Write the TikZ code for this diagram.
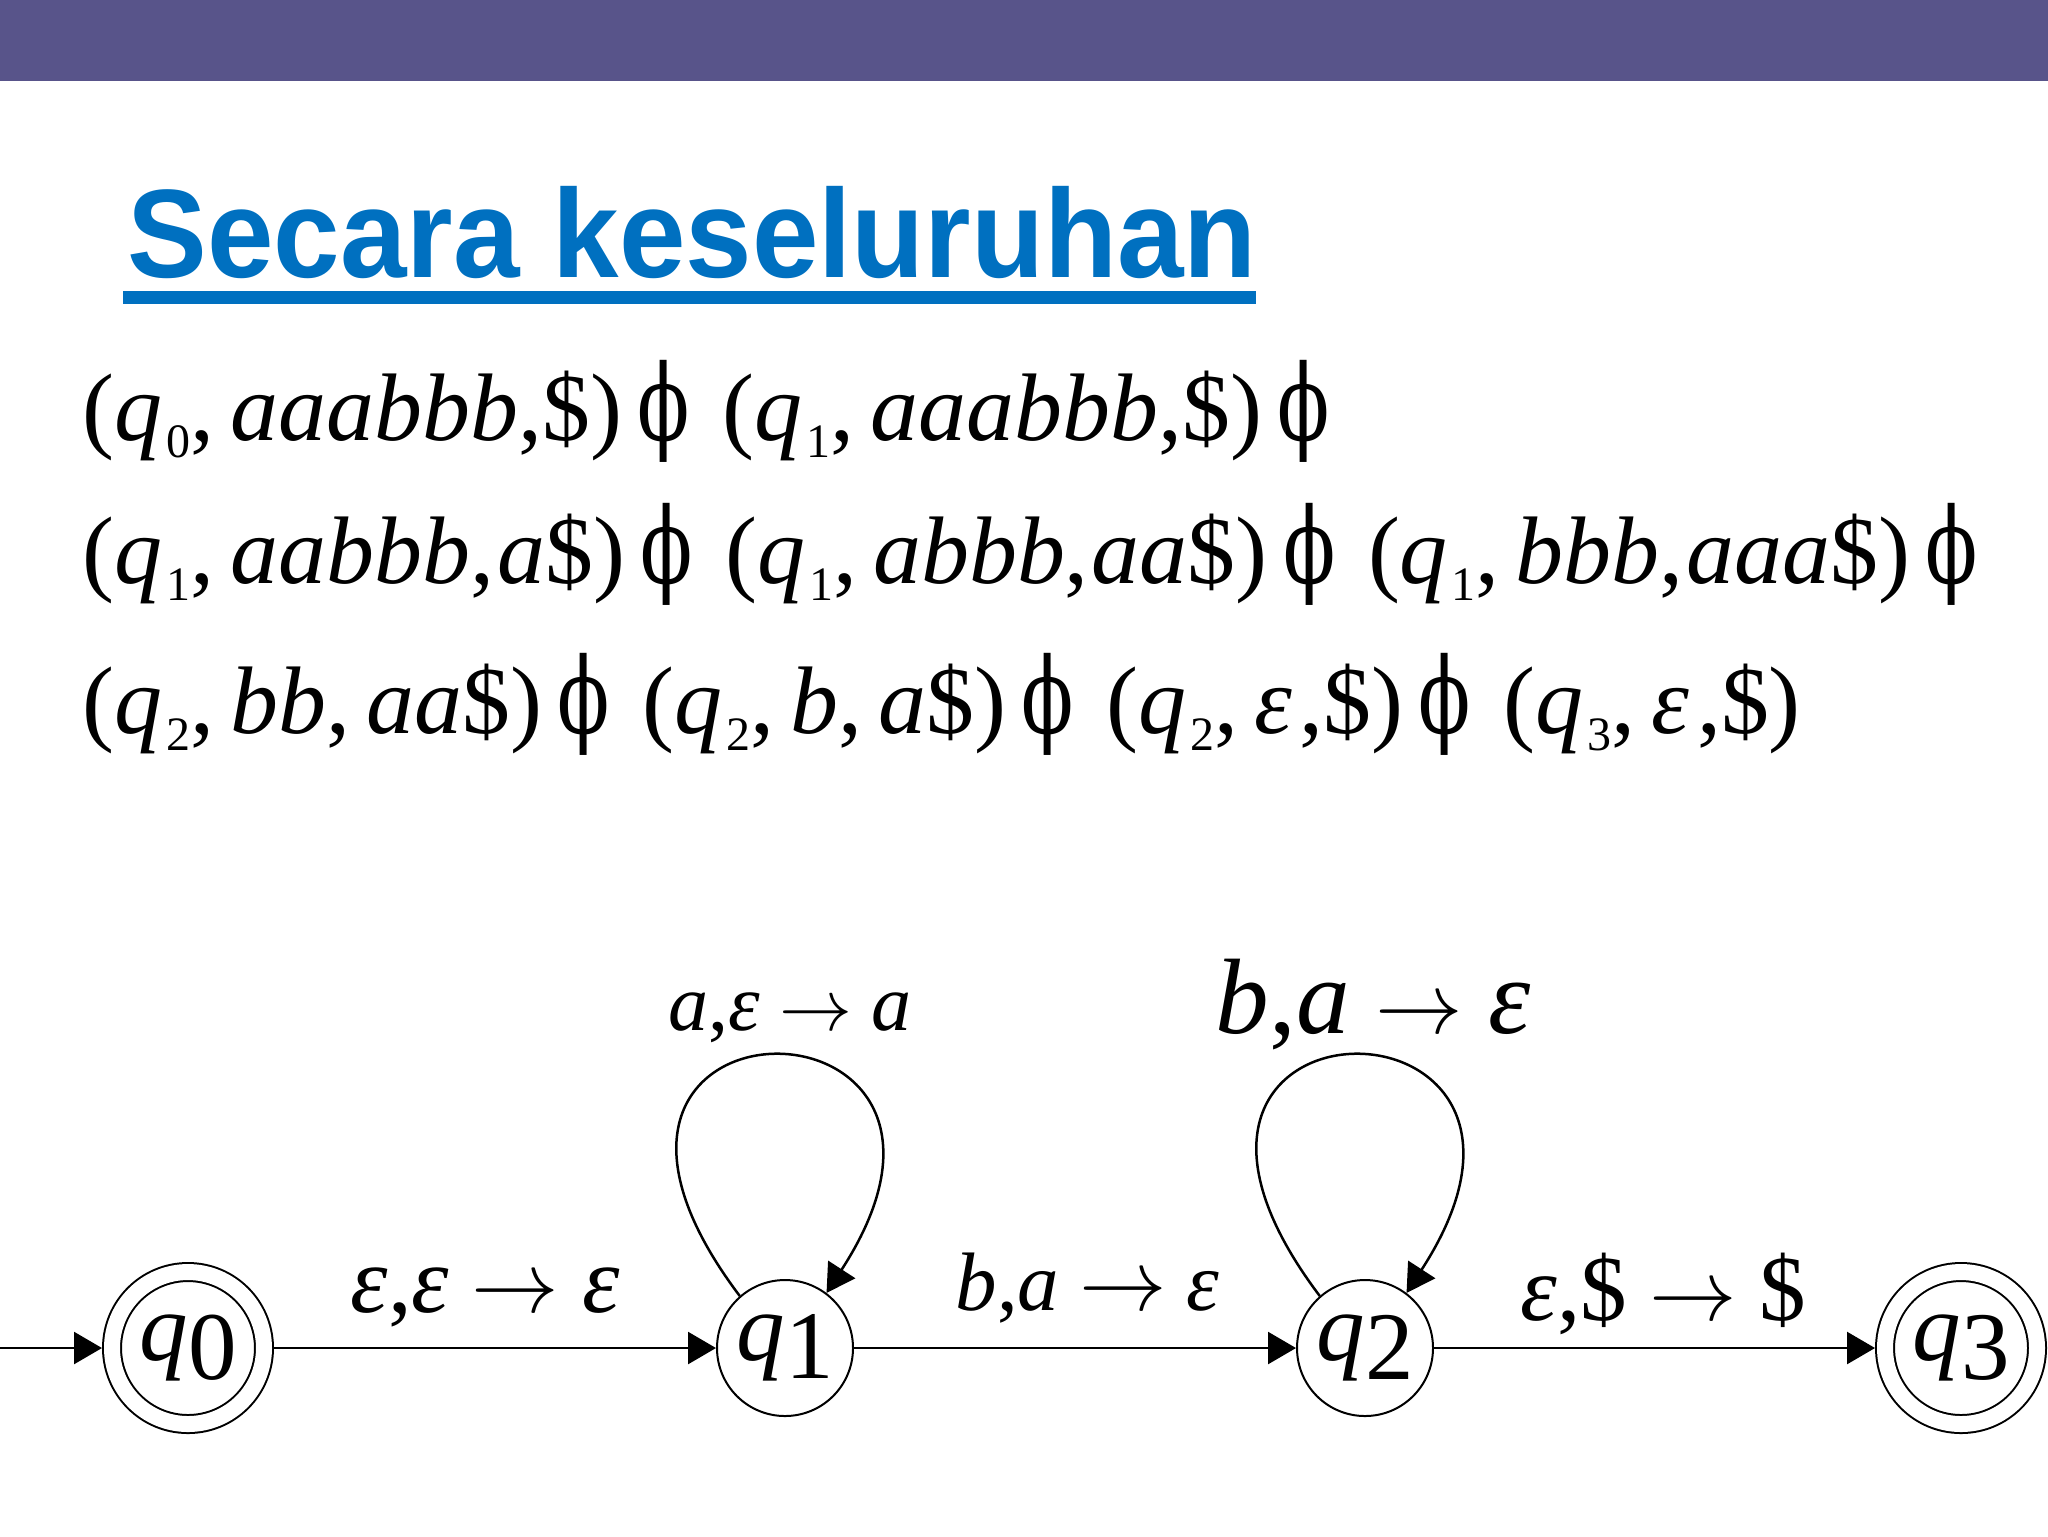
\documentclass[tikz,border=0pt]{standalone}
\usepackage{fontspec}
\setmainfont{Liberation Serif}
\newfontfamily\titlefont{Liberation Sans}
\newfontfamily\phifont{DejaVu Serif}
\usetikzlibrary{positioning,arrows.meta}
\definecolor{barcol}{RGB}{88,84,138}
\definecolor{titleblue}{RGB}{0,112,192}
\newcommand\qq[1]{\textit{q}\kern0.04em\raisebox{-0.18em}{\scalebox{0.5}{#1}}}
\newcommand\qn[1]{\raisebox{-0.12em}{\textit{q}\raisebox{-0.19em}{#1}}}
\newcommand\yields{\hspace{0.16em}\scalebox{0.8}[1.1]{\phifont ϕ}\hspace{0.34em}}
\newcommand\csep{\hspace{0.03em}}
\newcommand\eps{\textit{ε}\kern0.08em}
\newcommand\too{\hspace{0.24em}$\rightarrow$\hspace{0.24em}}

\begin{document}
\begin{tikzpicture}[x=0.1mm,y=-0.1mm,
		state/.style={circle,draw,line width=0.2mm,minimum size=13.6mm,inner sep=0pt,font=\fontsize{27.6pt}{30pt}\selectfont},
		accepting/.style={double,double distance=1.6mm,minimum size=15.2mm,outer sep=1mm},
		trans/.style={-{Triangle[length=2.8mm,width=3.2mm]},line width=0.25mm},
		conf/.style={anchor=base west,inner sep=0pt,font=\fontsize{27.3pt}{30pt}\selectfont},
		tlabel/.style={anchor=base west,inner sep=0pt}]
		\useasboundingbox (0,0) rectangle (2048,1536);
		\fill[barcol] (0,0) rectangle (2048,81);
		
		\node[anchor=base west,inner sep=0pt,text=titleblue,font=\titlefont\bfseries\fontsize{35.8pt}{40pt}\selectfont] (title) at (127,277) {\scalebox{0.95}[1]{Secara keseluruhan}};
		\fill[titleblue] (123,291) rectangle (1256,304);
		
		\node[conf] (c1) at (82,440) {(\qq0,\,\textit{aaabbb},\$)\yields(\qq1,\,\textit{aaabbb},\$)\yields};
		\node[conf] (c2) at (82,583) {(\qq1,\,\textit{aabbb},\csep\textit{a}\$)\yields(\qq1,\,\textit{abbb},\csep\textit{aa}\$)\yields(\qq1,\,\textit{bbb},\csep\textit{aaa}\$)\yields};
		\node[conf] (c3) at (82,733) {(\qq2,\,\textit{bb},\,\textit{aa}\$)\yields(\qq2,\,\textit{b},\,\textit{a}\$)\yields(\qq2,\,\eps,\$)\yields(\qq3,\,\eps,\$)};
		
		\node[state,accepting] (q0) at (188,1348) {\qn0};
		\node[state] (q1) at (785,1348) {\qn1};
		\node[state] (q2) at (1365,1348) {\qn2};
		\node[state,accepting] (q3) at (1961,1348) {\qn3};
		\coordinate (start) at (0,1348);
		
		\draw[trans] (start) -- (q0);
		\draw[trans] (q0) -- (q1);
		\draw[trans] (q1) -- (q2);
		\draw[trans] (q2) -- (q3);
		\draw[trans] (q1.131) .. controls +(-240,-318) and +(205,-316) .. (q1.53);
		\draw[trans] (q2.131) .. controls +(-240,-318) and +(205,-316) .. (q2.53);
		
		\node[tlabel,font=\fontsize{27pt}{30pt}\selectfont] (l01) at (350,1312) {\textit{ε},\textit{ε}\too\textit{ε}};
		\node[tlabel,font=\fontsize{22.8pt}{24pt}\selectfont] (l11) at (668,1030) {\textit{a},\textit{ε}\too\textit{a}};
		\node[tlabel,font=\fontsize{23.6pt}{26pt}\selectfont] (l12) at (955,1310) {\textit{b},\textit{a}\too\textit{ε}};
		\node[tlabel,font=\fontsize{30.5pt}{32pt}\selectfont] (l22) at (1215,1033) {\textit{b},\textit{a}\too\textit{ε}};
		\node[tlabel,font=\fontsize{26.5pt}{30pt}\selectfont] (l23) at (1520,1320) {\textit{ε},\$\too\$};
	\end{tikzpicture}
\end{document}
